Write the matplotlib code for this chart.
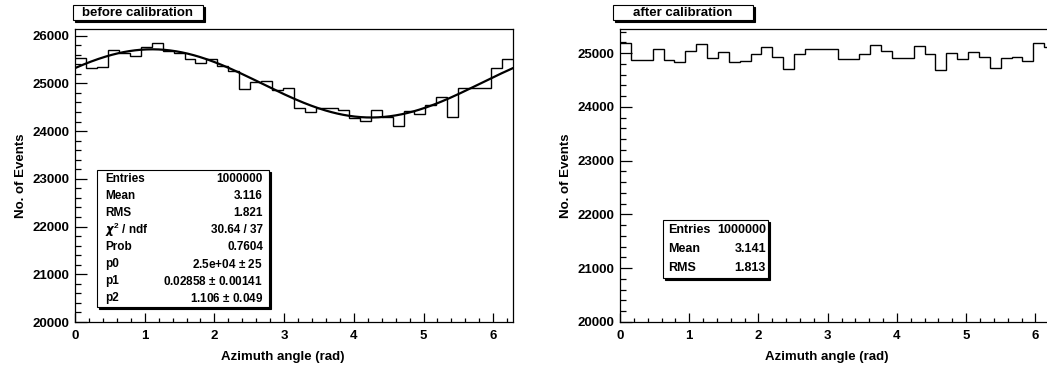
import matplotlib
matplotlib.use('Agg')
import matplotlib.pyplot as plt
import numpy as np
from matplotlib.patches import Rectangle
from matplotlib.ticker import MultipleLocator

plt.rcParams['font.family'] = ['Liberation Sans', 'DejaVu Sans']
plt.rcParams['font.weight'] = 'bold'
plt.rcParams['mathtext.fontset'] = 'custom'
plt.rcParams['mathtext.rm'] = 'Liberation Sans:bold'
plt.rcParams['mathtext.bf'] = 'Liberation Sans:bold'

# 40 bins between 0 and 2pi
n_bins = 40
edges = np.linspace(0, 2 * np.pi, n_bins + 1)

before = [25526, 25317, 25350, 25700, 25631, 25575, 25770, 25853, 25686, 25631,
          25505, 25434, 25505, 25365, 25267, 24883, 25036, 25057, 24860, 24900,
          24478, 24407, 24478, 24478, 24443, 24268, 24218, 24443, 24302, 24107,
          24428, 24353, 24548, 24709, 24302, 24897, 24897, 24897, 25329, 25512]

after = [25191, 24880, 24870, 25069, 24870, 24827, 25043, 25167, 24913, 25024,
         24827, 24857, 24976, 25117, 24931, 24703, 24976, 25069, 25087, 25074,
         24883, 24883, 24994, 25161, 25043, 24902, 24902, 25135, 24994, 24685,
         25006, 24889, 25013, 24931, 24716, 24902, 24931, 24857, 25191, 25117]

# fit parameters: p0*(1 + p1*cos(x - p2))
p0, p1, p2 = 2.5e4, 0.02858, 1.106

stats_before = [('Entries', '1000000'), ('Mean', '3.116'), ('RMS', '1.821'),
                (r'$\chi^{2}$ / ndf', '30.64 / 37'), ('Prob', '0.7604'),
                ('p0', '2.5e+04 $\\pm$ 25'), ('p1', '0.02858 $\\pm$ 0.00141'),
                ('p2', '1.106 $\\pm$ 0.049')]
stats_after = [('Entries', '1000000'), ('Mean', '3.141'), ('RMS', '1.813')]

W, H = 1047, 369
fig = plt.figure(figsize=(W / 100, H / 100), dpi=100)


def px_rect(x0, y0, x1, y1):
    return [x0 / W, 1 - y1 / H, (x1 - x0) / W, (y1 - y0) / H]


def style_axes(ax, ylim):
    ax.set_xlim(0, 2 * np.pi)
    ax.set_ylim(*ylim)
    ax.xaxis.set_major_locator(MultipleLocator(1))
    ax.xaxis.set_minor_locator(MultipleLocator(0.2))
    ax.yaxis.set_major_locator(MultipleLocator(1000))
    ax.yaxis.set_minor_locator(MultipleLocator(200))
    ax.tick_params(which='both', direction='in', top=False, right=False,
                   labelsize=9.5, width=0.9)
    ax.tick_params(axis='x', which='major', length=6.5, pad=5.5)
    ax.tick_params(axis='x', which='minor', length=3.2)
    ax.tick_params(axis='y', which='major', length=8.5, pad=4)
    ax.tick_params(axis='y', which='minor', length=4.3)
    for s in ax.spines.values():
        s.set_linewidth(0.9)
    ax.set_xlabel('Azimuth angle (rad)', fontsize=9.5, fontweight='bold',
                  x=0.475, labelpad=7)
    ax.set_ylabel('No. of Events', fontsize=9.5, fontweight='bold')


def box(x0, y0, x1, y1, shadow=2):
    fig.add_artist(Rectangle(((x0 + shadow) / W, 1 - (y1 + shadow) / H),
                             (x1 - x0) / W, (y1 - y0) / H,
                             transform=fig.transFigure, facecolor='black',
                             edgecolor='black', lw=0.8))
    fig.add_artist(Rectangle((x0 / W, 1 - y1 / H), (x1 - x0) / W, (y1 - y0) / H,
                             transform=fig.transFigure, facecolor='white',
                             edgecolor='black', lw=0.8))


def title_box(x0, y0, x1, y1, text):
    box(x0, y0, x1, y1)
    fig.text((x0 + x1) / 2 / W, 1 - (y0 + y1) / 2 / H, text, ha='center',
             va='center', fontsize=9.5, fontweight='bold')


def stat_box(x0, y0, x1, y1, rows, lab_x, val_x, fs):
    box(x0, y0, x1, y1)
    h = (y1 - y0) / len(rows)
    for i, (lab, val) in enumerate(rows):
        yc = 1 - (y0 + h * (i + 0.5)) / H
        fig.text(lab_x / W, yc, lab, ha='left', va='center', fontsize=fs,
                 fontweight='bold')
        fig.text(val_x / W, yc, val, ha='right', va='center', fontsize=fs,
                 fontweight='bold')


# left: before calibration
ax1 = fig.add_axes(px_rect(75, 29, 513, 322))
ax1.stairs(before, edges, baseline=None, color='black', lw=1.0)
xf = np.linspace(0, 2 * np.pi, 300)
ax1.plot(xf, p0 * (1 + p1 * np.cos(xf - p2)), color='black', lw=1.6)
style_axes(ax1, (20000, 26140))

# right: after calibration
ax2 = fig.add_axes(px_rect(620, 29, 1055, 322))
ax2.stairs(after, edges, baseline=None, color='black', lw=1.0)
style_axes(ax2, (20000, 25450))

title_box(73, 5, 203, 20, 'before calibration')
title_box(613, 5, 753, 20, 'after calibration')
stat_box(97, 170, 269, 307, stats_before, 105, 263, 8.5)
stat_box(663, 220, 768, 278, stats_after, 668, 766, 9)

fig.savefig('out.png', dpi=100)
